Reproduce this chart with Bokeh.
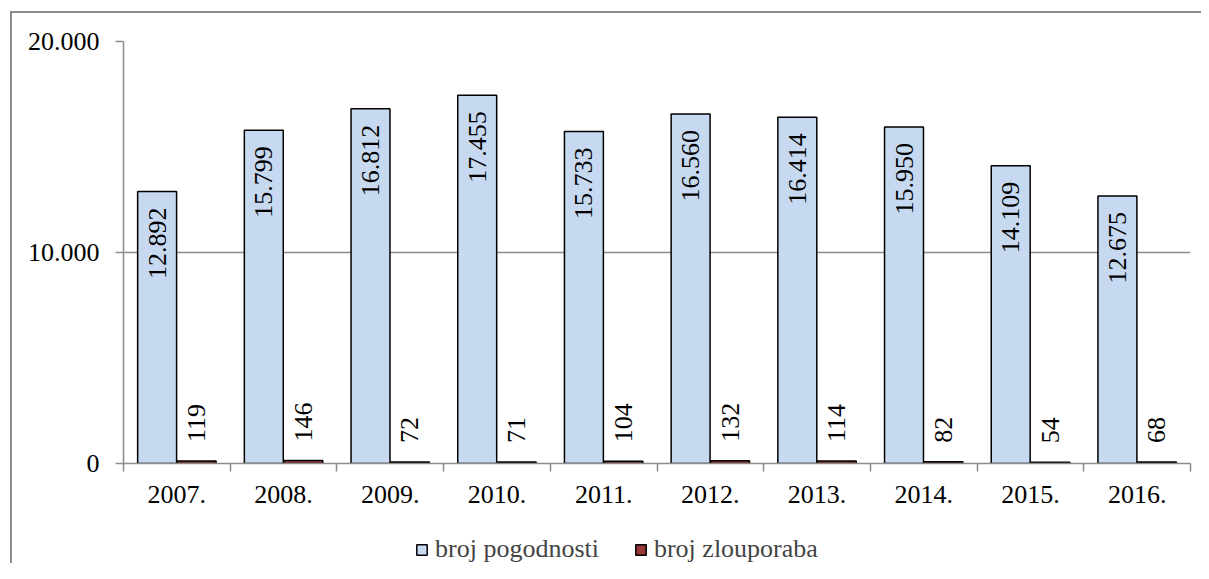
import math
import numpy as np
from bokeh.plotting import figure
from bokeh.layouts import column
from bokeh.models import (FixedTicker, CustomJSTickFormatter, ColumnDataSource,
                          Legend, LegendItem, Range1d)
from bokeh.transform import dodge
from bokeh.embed import file_html
from bokeh.resources import INLINE
from bokeh.core.properties import value

years = ["2007.", "2008.", "2009.", "2010.", "2011.", "2012.", "2013.", "2014.", "2015.", "2016."]
pogodnosti = [12892, 15799, 16812, 17455, 15733, 16560, 16414, 15950, 14109, 12675]
zlouporaba = [119, 146, 72, 71, 104, 132, 114, 82, 54, 68]
y_ticks = [0, 10000, 20000]
y_tick_labels = ["0", "10.000", "20.000"]
series_names = ["broj pogodnosti", "broj zlouporaba"]

FONT = "Liberation Serif"
GRAY = "#8c8c8c"
BLUE = "#C6D9F1"
RED = "#953735"
W = 1189


def fmt(v):
    return f"{v:,}".replace(",", ".")


src = ColumnDataSource(dict(
    x=[i + 0.5 for i in range(len(years))],
    pog=pogodnosti,
    zlo=zlouporaba,
    pog_lbl=[fmt(v) for v in pogodnosti],
    zlo_lbl=[fmt(v) for v in zlouporaba],
))

p = figure(width=W, height=502,
           x_range=Range1d(0, len(years)), y_range=Range1d(y_ticks[0], y_ticks[-1]),
           output_backend="svg", toolbar_location=None,
           min_border_left=111, min_border_right=11,
           min_border_top=28, min_border_bottom=52)
p.outline_line_color = None
p.background_fill_color = "white"

r1 = p.vbar(x=dodge("x", -0.185), top="pog", width=0.365, source=src,
            fill_color=BLUE, line_color="black", line_width=1.5)
r2 = p.vbar(x=dodge("x", 0.185), top="zlo", width=0.365, source=src,
            fill_color=RED, line_color="black", line_width=1.5)

p.text(x=dodge("x", -0.185), y="pog", text="pog_lbl", source=src,
       angle=math.pi / 2, text_align="right", text_baseline="middle",
       y_offset=16, text_font=value(FONT), text_font_size="26px", text_color="black")
p.text(x=dodge("x", 0.185), y="zlo", text="zlo_lbl", source=src,
       angle=math.pi / 2, text_align="left", text_baseline="middle",
       y_offset=-19, text_font=value(FONT), text_font_size="26px", text_color="black")

# x axis
xa = p.xaxis[0]
xa.ticker = FixedTicker(ticks=[i + 0.5 for i in range(len(years))],
                        minor_ticks=list(range(len(years) + 1)))
xa.formatter = CustomJSTickFormatter(args=dict(labels=years),
                                     code="return labels[Math.floor(tick)];")
xa.major_tick_out = 0
xa.major_tick_in = 0
xa.minor_tick_out = 8
xa.minor_tick_in = 0
xa.minor_tick_line_color = GRAY
xa.minor_tick_line_width = 1.5
xa.axis_line_color = GRAY
xa.axis_line_width = 1.5
xa.major_label_text_font = FONT
xa.major_label_text_font_size = "26px"
xa.major_label_text_color = "black"
xa.major_label_standoff = 14

# y axis
ya = p.yaxis[0]
ya.ticker = FixedTicker(ticks=y_ticks, minor_ticks=[])
ya.major_label_overrides = dict(zip(y_ticks, y_tick_labels))
ya.major_tick_out = 8
ya.major_tick_in = 0
ya.major_tick_line_color = GRAY
ya.major_tick_line_width = 1.5
ya.axis_line_color = GRAY
ya.axis_line_width = 1.5
ya.major_label_text_font = FONT
ya.major_label_text_font_size = "26px"
ya.major_label_text_color = "black"
ya.major_label_standoff = 16

p.xgrid.visible = False
p.ygrid.ticker = FixedTicker(ticks=y_ticks)
p.ygrid.grid_line_color = GRAY
p.ygrid.grid_line_width = 1.5

# legend strip (same series styles, drawn by Bokeh's Legend)
q = figure(width=W, height=48, x_range=Range1d(0, 1), y_range=Range1d(0, 1),
           output_backend="svg", toolbar_location=None,
           x_axis_location=None, y_axis_location=None,
           min_border_left=111, min_border_right=11, min_border_top=0, min_border_bottom=0)
q.outline_line_color = None
q.grid.visible = False
q.background_fill_alpha = 0
q.border_fill_alpha = 0
lsrc = ColumnDataSource(dict(x=np.array([np.nan]), top=np.array([np.nan])))
q1 = q.vbar(x="x", top="top", width=0.1, source=lsrc,
            fill_color=BLUE, line_color="black", line_width=1.5)
q2 = q.vbar(x="x", top="top", width=0.1, source=lsrc,
            fill_color=RED, line_color="black", line_width=1.5)
legend = Legend(items=[LegendItem(label=series_names[0], renderers=[q1]),
                       LegendItem(label=series_names[1], renderers=[q2])],
                orientation="horizontal", location=(292, -1),
                padding=0, margin=0, spacing=35, label_standoff=7,
                glyph_width=13, glyph_height=13,
                label_text_font=FONT, label_text_font_size="26px",
                border_line_color=None, background_fill_alpha=0)
q.add_layout(legend)

lay = column(p, q, spacing=0,
             styles={"margin-left": "10px", "margin-top": "11px",
                     "border-left": f"2px solid {GRAY}", "border-top": f"2px solid {GRAY}"})

open("out.html", "w").write(file_html(lay, INLINE))
